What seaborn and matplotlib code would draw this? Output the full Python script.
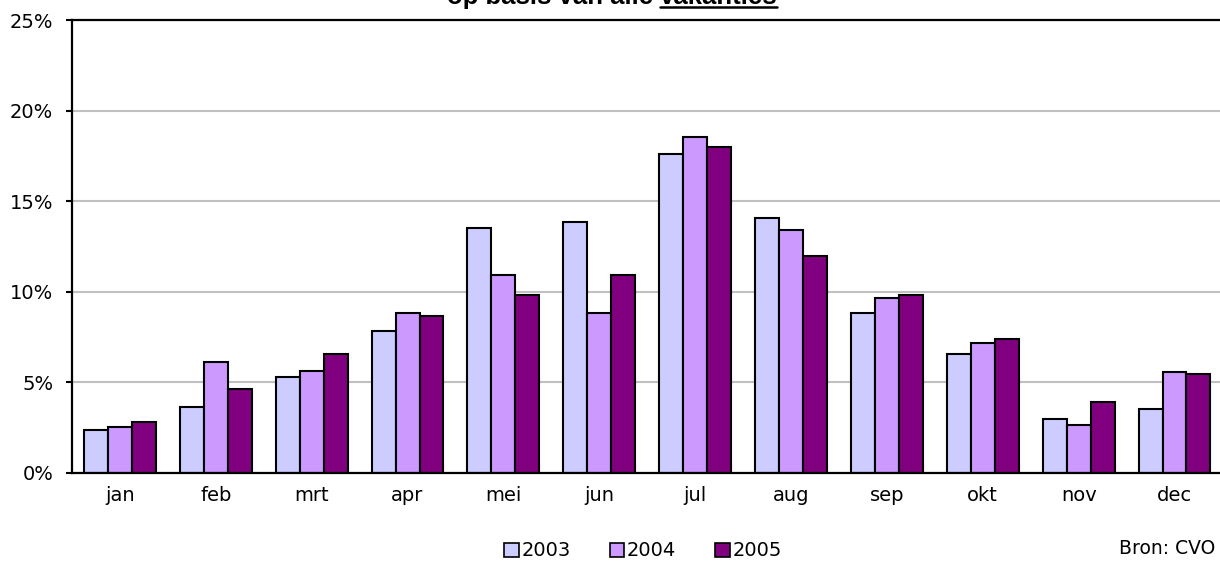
import matplotlib
matplotlib.use("Agg")
import matplotlib.pyplot as plt
import seaborn as sns
import pandas as pd
from matplotlib.ticker import FuncFormatter
from matplotlib.patches import Patch

# data (aandeel vakanties per maand, %)
maanden = ['jan', 'feb', 'mrt', 'apr', 'mei', 'jun', 'jul', 'aug', 'sep', 'okt', 'nov', 'dec']
jaren = ['2003', '2004', '2005']
v2003 = [2.35, 3.65, 5.3, 7.85, 13.5, 13.85, 17.6, 14.05, 8.85, 6.55, 3.0, 3.55]
v2004 = [2.55, 6.1, 5.65, 8.85, 10.95, 8.85, 18.55, 13.4, 9.65, 7.2, 2.65, 5.55]
v2005 = [2.8, 4.65, 6.55, 8.65, 9.85, 10.95, 18.0, 11.95, 9.85, 7.4, 3.9, 5.45]
kleuren = ['#CCCCFF', '#CC99FF', '#800080']

sns.set_style("white")
plt.rcParams['font.family'] = ['DejaVu Sans']
plt.rcParams['text.color'] = 'black'
plt.rcParams['xtick.color'] = 'black'
plt.rcParams['ytick.color'] = 'black'

df = pd.DataFrame({
    'maand': maanden * 3,
    'pct': v2003 + v2004 + v2005,
    'jaar': [j for j in jaren for _ in maanden],
})

W, H = 1220, 561
fig = plt.figure(figsize=(W / 100, H / 100), dpi=100)
ax = fig.add_axes([72 / W, (H - 473) / H, 1 - 72 / W + 0.002, (473 - 20) / H])

sns.barplot(data=df, x='maand', y='pct', hue='jaar', palette=kleuren, saturation=1,
            edgecolor='black', linewidth=1.5, width=0.75, ax=ax, legend=False)

ax.set_ylim(0, 25)
ax.set_xlim(-0.5, 11.5)
ax.set_yticks([0, 5, 10, 15, 20, 25])
ax.yaxis.set_major_formatter(FuncFormatter(lambda v, p: f"{v:.0f}%"))
ax.set_xlabel('')
ax.set_ylabel('')
ax.grid(axis='y', color='#c0c0c0', linewidth=1.5)
ax.set_axisbelow(True)
for s in ['left', 'bottom', 'top']:
    ax.spines[s].set_color('black')
    ax.spines[s].set_linewidth(1.6)
ax.spines['right'].set_visible(False)
ax.tick_params(axis='y', length=4.5, width=1.5, color='black', pad=9, labelsize=14, left=True)
ax.tick_params(axis='x', length=0, pad=9.5, labelsize=14)

# legenda
handles = [Patch(facecolor=c, edgecolor='black', linewidth=1.2, label=j) for c, j in zip(kleuren, jaren)]
fig.legend(handles=handles, loc='center', bbox_to_anchor=(643 / W, 1 - 551 / H), ncol=3,
           frameon=False, fontsize=14, handlelength=0.75, handleheight=0.75,
           handletextpad=0.15, columnspacing=2.0, borderpad=0)

fig.text(1215 / W, 1 - 548 / H, 'Bron: CVO', ha='right', va='center', fontsize=13.5)

# titel (bovenkant valt buiten beeld, zoals in het origineel)
titel_x = 612
t1 = fig.text(titel_x / W, 1 - 4 / H, 'op basis van alle ', ha='right', va='baseline',
              fontsize=18.5, fontweight='bold', family='Liberation Sans')
fig.canvas.draw()
bb = t1.get_window_extent()
t2 = fig.text(bb.x1 / W, 1 - 4 / H, 'vakanties', ha='left', va='baseline',
              fontsize=18.5, fontweight='bold', family='Liberation Sans')
fig.canvas.draw()
bb2 = t2.get_window_extent()
# verschuif zodat het geheel gecentreerd staat
shift = (titel_x - (bb.x0 + bb2.x1) / 2) / W
t1.set_x(t1.get_position()[0] + shift)
t2.set_x(t2.get_position()[0] + shift)
fig.canvas.draw()
bb2 = t2.get_window_extent()
fig.add_artist(plt.Line2D([bb2.x0 / W, bb2.x1 / W], [1 - 7 / H, 1 - 7 / H],
                          color='black', linewidth=1.8, transform=fig.transFigure))

fig.savefig('out.png', dpi=100)
